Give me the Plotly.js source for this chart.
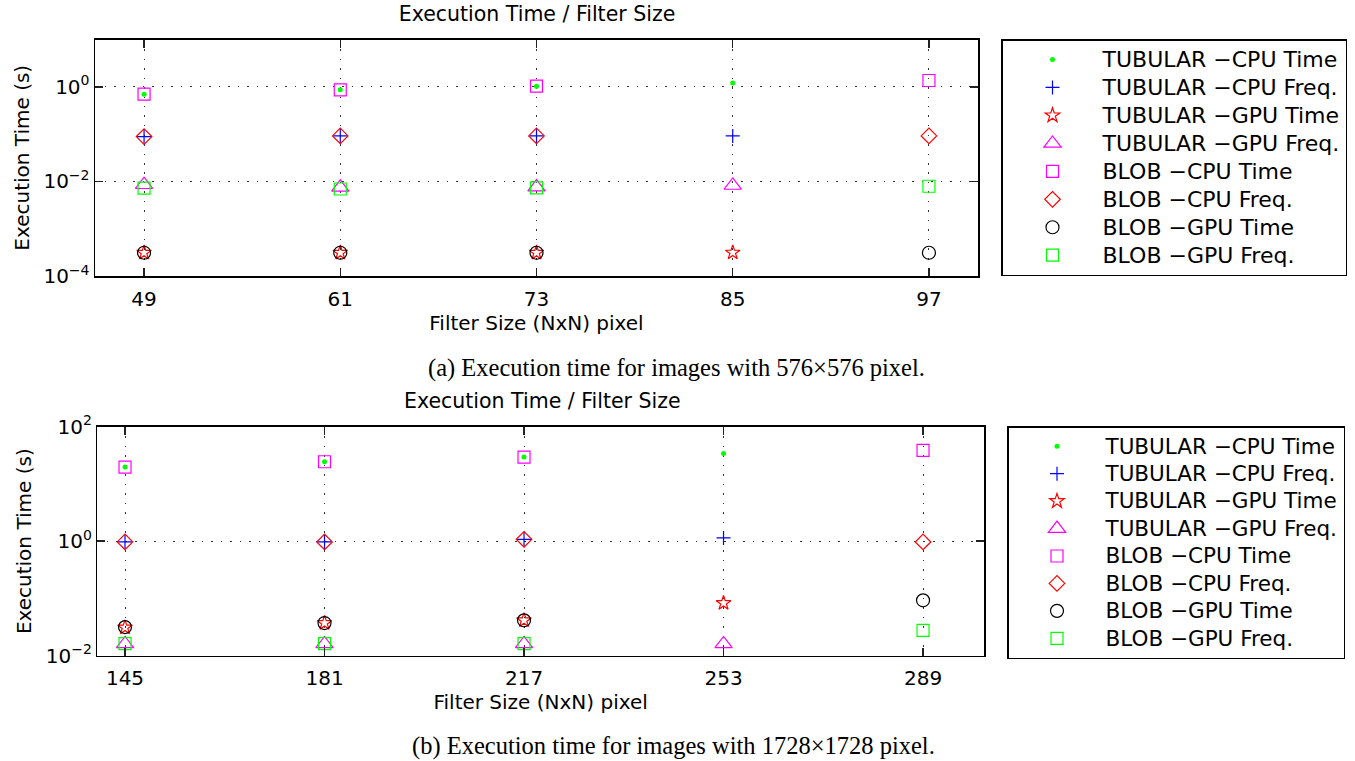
<!DOCTYPE html>
<html>
<head>
<meta charset="utf-8">
<script src="https://cdn.plot.ly/plotly-3.0.1.min.js"></script>
<style>html,body{margin:0;padding:0;background:#fff;}#chart{width:1355px;height:761px;}</style>
</head>
<body>
<div id="chart"></div>
<script>
// ---- data: (a) 576x576 images ----
const topX = [49, 61, 73, 85, 97];
const topTicks = ['49', '61', '73', '85', '97'];
const topTubCpuTime  = [0.70, 0.865, 1.03, 1.2, null];
const topTubCpuFreq  = [0.0885, 0.0917, 0.0917, 0.0917, null];
const topTubGpuTime  = [0.00031, 0.00031, 0.00031, 0.000312, null];
const topTubGpuFreq  = [0.0085, 0.0075, 0.0076, 0.0082, null];
const topBlobCpuTime = [0.70, 0.865, 1.03, null, 1.36];
const topBlobCpuFreq = [0.0885, 0.0917, 0.0917, null, 0.0917];
const topBlobGpuTime = [0.00031, 0.00031, 0.00031, null, 0.00031];
const topBlobGpuFreq = [0.0072, 0.0069, 0.0073, null, 0.0079];

// ---- data: (b) 1728x1728 images ----
const botX = [145, 181, 217, 253, 289];
const botTicks = ['145', '181', '217', '253', '289'];
const botTubCpuTime  = [19.7, 24.4, 29.5, 34.2, null];
const botTubCpuFreq  = [0.973, 0.97, 1.08, 1.14, null];
const botTubGpuTime  = [0.031, 0.0372, 0.0415, 0.0831, null];
const botTubGpuFreq  = [0.0161, 0.0161, 0.0161, 0.0161, null];
const botBlobCpuTime = [19.7, 24.4, 29.5, null, 38.6];
const botBlobCpuFreq = [0.973, 0.97, 1.08, null, 0.97];
const botBlobGpuTime = [0.0316, 0.0372, 0.0415, null, 0.0928];
const botBlobGpuFreq = [0.0162, 0.0162, 0.0162, null, 0.0277];

const seriesNames = ['TUBULAR \u2212CPU Time', 'TUBULAR \u2212CPU Freq.', 'TUBULAR \u2212GPU Time', 'TUBULAR \u2212GPU Freq.',
                     'BLOB \u2212CPU Time', 'BLOB \u2212CPU Freq.', 'BLOB \u2212GPU Time', 'BLOB \u2212GPU Freq.'];

const styles = [
  {symbol: 'circle', color: '#00ff00', size: 5, filled: true},
  {symbol: 'cross-thin-open', color: '#0000ff', size: 10},
  {symbol: 'star-open', color: '#ff0000', size: 11},
  {symbol: 'triangle-up-open', color: '#ff00ff', size: 15},
  {symbol: 'square-open', color: '#ff00ff', size: 12},
  {symbol: 'diamond-open', color: '#ff0000', size: 12},
  {symbol: 'circle-open', color: '#000000', size: 13},
  {symbol: 'square-open', color: '#00ff00', size: 12}
];

function mk(x, y, i, ax, leg, fs) {
  const s = styles[i];
  return {
    type: 'scatter', mode: 'markers', x: x, y: y,
    name: '<span style="font-size:' + fs + 'px">' + seriesNames[i] + '</span>',
    xaxis: ax[0], yaxis: ax[1], legend: leg, cliponaxis: false,
    marker: s.filled ? {symbol: s.symbol, color: s.color, size: s.size, line: {width: 0}}
                     : {symbol: s.symbol, color: s.color, size: s.size, line: {color: s.color, width: 1.2}}
  };
}

const topSeries = [topTubCpuTime, topTubCpuFreq, topTubGpuTime, topTubGpuFreq, topBlobCpuTime, topBlobCpuFreq, topBlobGpuTime, topBlobGpuFreq];
const botSeries = [botTubCpuTime, botTubCpuFreq, botTubGpuTime, botTubGpuFreq, botBlobCpuTime, botBlobCpuFreq, botBlobGpuTime, botBlobGpuFreq];

const traces = [];
topSeries.forEach((ys, i) => traces.push(mk(topX, ys, i, ['x', 'y'], 'legend', 22)));
botSeries.forEach((ys, i) => traces.push(mk(botX, ys, i, ['x2', 'y2'], 'legend2', 21.5)));

const FONT = 'DejaVu Sans, Verdana, sans-serif';
const W = 1355, H = 761;

function xax(dom, range, vals, text, anchor) {
  return {
    domain: dom, range: range, type: 'linear', anchor: anchor,
    tickvals: vals, ticktext: text, ticks: 'inside', ticklen: 8, tickwidth: 1.5, tickcolor: '#222',
    showline: true, mirror: 'ticks', linecolor: '#000', linewidth: 1.5,
    showgrid: true, gridcolor: '#333', gridwidth: 1, griddash: '1.5px,8px', zeroline: false,
    tickfont: {family: FONT, size: 20, color: '#000'}, ticklabelstandoff: 4,
    title: {text: 'Filter Size (NxN) pixel', font: {family: FONT, size: 20, color: '#000'}, standoff: 5}
  };
}
function yax(dom, range, vals, text, anchor) {
  return {
    domain: dom, range: range, type: 'log', anchor: anchor,
    tickvals: vals, ticktext: text, ticks: 'inside', ticklen: 8, tickwidth: 1.5, tickcolor: '#222',
    showline: true, mirror: 'ticks', linecolor: '#000', linewidth: 1.5,
    showgrid: true, gridcolor: '#333', gridwidth: 1, griddash: '1.5px,8px', zeroline: false,
    tickfont: {family: FONT, size: 20, color: '#000'},
    title: {text: 'Execution Time (s)', font: {family: FONT, size: 20, color: '#000'}, standoff: 8}
  };
}

const legendBase = {
  orientation: 'v', xanchor: 'left', yanchor: 'top',
  bgcolor: '#fff', bordercolor: '#000', borderwidth: 1.5,
  font: {family: FONT, size: 19.2, color: '#000'},
  itemwidth: 90, itemclick: false, itemdoubleclick: false
};

const layout = {
  width: W, height: H,
  margin: {l: 0, r: 0, t: 0, b: 0},
  paper_bgcolor: '#fff', plot_bgcolor: '#fff',
  showlegend: true,
  title: {text: 'Execution Time / Filter Size', x: 537 / W, xanchor: 'center', xref: 'paper',
          y: 1 - 14 / H, yanchor: 'middle', yref: 'paper', font: {family: FONT, size: 20.5, color: '#000'}},
  xaxis: xax([95 / W, 978 / W], [46, 100], topX, topTicks, 'y'),
  yaxis: yax([1 - 276 / H, 1 - 39.5 / H], [-4, 1], [1e-4, 1e-2, 1], ['10<sup>\u22124</sup>', '10<sup>\u22122</sup>', '10<sup>0</sup>'], 'x'),
  xaxis2: xax([97.3 / W, 984 / W], [140, 300], botX, botTicks, 'y2'),
  yaxis2: yax([1 - 655.7 / H, 1 - 426.7 / H], [-2, 2], [1e-2, 1, 100], ['10<sup>\u22122</sup>', '10<sup>0</sup>', '10<sup>2</sup>'], 'x2'),
  legend: Object.assign({}, legendBase, {x: 1001 / W, y: 1 - 39 / H}),
  legend2: Object.assign({}, legendBase, {x: 1007 / W, y: 1 - 426 / H, itemwidth: 87, font: {family: FONT, size: 18.8, color: '#000'}}),
  annotations: [
    {text: 'Execution Time / Filter Size', xref: 'paper', yref: 'paper', x: 542 / W, y: 1 - 401 / H,
     xanchor: 'center', yanchor: 'middle', showarrow: false, font: {family: FONT, size: 20.5, color: '#000'}},
    {text: '(a) Execution time for images with 576\u00d7576 pixel.', xref: 'paper', yref: 'paper', x: 676 / W, y: 1 - 368 / H,
     xanchor: 'center', yanchor: 'middle', showarrow: false, font: {family: 'Liberation Serif, Times New Roman, serif', size: 24.5, color: '#000'}},
    {text: '(b) Execution time for images with 1728\u00d71728 pixel.', xref: 'paper', yref: 'paper', x: 673 / W, y: 1 - 746 / H,
     xanchor: 'center', yanchor: 'middle', showarrow: false, font: {family: 'Liberation Serif, Times New Roman, serif', size: 24.5, color: '#000'}}
  ]
};

Plotly.newPlot('chart', traces, layout, {displayModeBar: false, staticPlot: true});
</script>
</body>
</html>
